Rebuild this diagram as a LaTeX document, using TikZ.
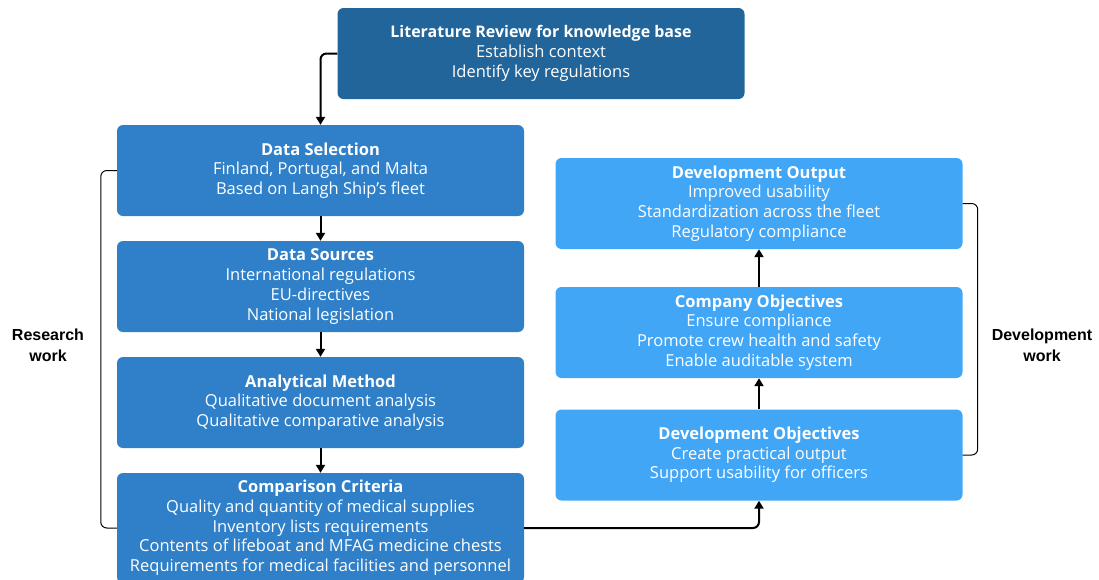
\documentclass[tikz,border=0pt]{standalone}
\usepackage{fontspec}
\setmainfont{Open Sans}
\newfontfamily\labelfont{Liberation Sans}
\usetikzlibrary{arrows.meta}
\definecolor{darkblue}{HTML}{22659A}
\definecolor{midblue}{HTML}{2F80C8}
\definecolor{lightblue}{HTML}{42A6F7}
\tikzset{
  box/.style={rounded corners=6pt, inner sep=0pt, minimum width=407pt, minimum height=91pt,
    text=white, align=center, font=\fontsize{16.5}{19.7}\selectfont},
  litbox/.style={box, fill=darkblue},
  resbox/.style={box, fill=midblue},
  devbox/.style={box, fill=lightblue},
  flow/.style={line width=2pt, -{Triangle[length=8pt,width=9pt]}, rounded corners=6pt},
  brace/.style={line width=1pt, rounded corners=6pt},
  side/.style={align=center, font=\labelfont\bfseries\fontsize{16}{21}\selectfont}
}
\begin{document}
\begin{tikzpicture}[x=1pt,y=-1pt]
\useasboundingbox (0,0) rectangle (1099,579);
\node[litbox] (lit) at (541,53.5) {{\fontsize{16}{19.7}\selectfont\textbf{Literature Review for knowledge base}}\\Establish context\\Identify key regulations};
\node[resbox] (sel) at (320.5,170.5) {\textbf{Data Selection}\\Finland, Portugal, and Malta\\Based on Langh Ship's fleet};
\node[resbox] (src) at (320.5,286.5) {\textbf{Data Sources}\\International regulations\\EU-directives\\National legislation};
\node[resbox] (ana) at (320.5,402.5) {\textbf{Analytical Method}\\Qualitative document analysis\\Qualitative comparative analysis};
\node[resbox, minimum height=110pt] (cmp) at (320.5,528) {\textbf{Comparison Criteria}\\Quality and quantity of medical supplies\\Inventory lists requirements\\Contents of lifeboat and MFAG medicine chests\\Requirements for medical facilities and personnel};
\node[devbox] (out) at (759,203.5) {\textbf{Development Output}\\Improved usability\\Standardization across the fleet\\Regulatory compliance};
\node[devbox] (com) at (759,332.5) {\textbf{Company Objectives}\\Ensure compliance\\Promote crew health and safety\\Enable auditable system};
\node[devbox] (dob) at (759,455) {\textbf{Development Objectives}\\Create practical output\\Support usability for officers};
\node[side] (rw) at (48,345) {Research\\work};
\node[side] (dw) at (1042,345) {Development\\work};
% connectors
\draw[flow] (lit.west) -| (sel.north);
\draw[flow] (sel) -- (src);
\draw[flow] (src) -- (ana);
\draw[flow] (ana) -- (cmp);
\draw[flow] (cmp.east) -| (dob.south);
\draw[flow] (dob) -- (com);
\draw[flow] (com) -- (out);
% brackets
\draw[brace] (sel.west) -- ++(-16,0) |- (cmp.west);
\draw[brace] (out.east) -- ++(15,0) |- (dob.east);
\end{tikzpicture}
\end{document}
